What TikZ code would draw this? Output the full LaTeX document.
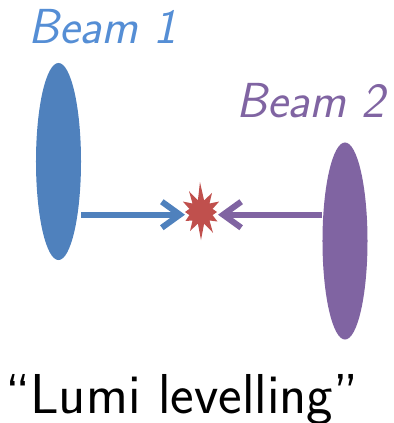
\documentclass[tikz,border=0pt]{standalone}
\usepackage{fontspec}
\usetikzlibrary{calc,arrows.meta}
\definecolor{beamblue}{HTML}{4F81BD}
\definecolor{labelblue}{HTML}{558ED5}
\definecolor{beampurple}{HTML}{8064A2}
\definecolor{bangred}{HTML}{C0504D}
\newcommand{\labfont}{\fontsize{35}{42}\selectfont\sffamily\itshape}
\newcommand{\bigfont}{\fontsize{40}{48}\selectfont\sffamily}
\usetikzlibrary{shapes.geometric}
\tikzset{
	beam/.style={ellipse, minimum width=1.125cm, minimum height=4.925cm, inner sep=0},
	label/.style={anchor=base west, inner sep=0, font=\labfont},
	push/.style={line width=4.3pt, -{Straight Barb[length=0.45cm, width=0.65cm, sharp]}}
}

\begin{document}
\begin{tikzpicture}[x=0.025cm, y=-0.025cm]
		%%%%% START %%%%%
		\useasboundingbox (0, 0) rectangle (394, 423);
		
		\node[beam, fill=beamblue] (beam1) at (58.5, 161.5) {};
		\node[beam, fill=beampurple] (beam2) at (345, 241) {};
		
		\node[label, text=labelblue] (lab1) at (28, 43) {Beam 1};
		\node[label, text=beampurple] (lab2) at (236, 117) {Beam 2};
		
		% the collision
		\coordinate (bang) at (201, 212);
		\fill[bangred] ($(bang)+(-92:30)$)
			\foreach \a/\r in {-75/12, -60/22, -45/12, -30/21, -15/12, 0/16, 15/12, 30/19, 45/12, 60/24, 75/12, 90/28,
				105/12, 120/22, 135/12, 150/18, 165/12, 180/16, 195/12, 210/21, 225/12, 240/24, 255/12} {
				-- ($(bang)+(\a:\r)$)
			} -- cycle;
		\coordinate (hit1) at (185, 214.7);
		\coordinate (hit2) at (218, 214.7);
		
		\draw[push, beamblue] (beam1.east |- hit1) -- (hit1);
		\draw[push, beampurple] (beam2.west |- hit2) -- (hit2);
		
		\node[anchor=base west, inner sep=0, font=\bigfont] (lumi) at (5, 413) {“Lumi levelling”};
		%%%%% END %%%%%
	\end{tikzpicture}
\end{document}
